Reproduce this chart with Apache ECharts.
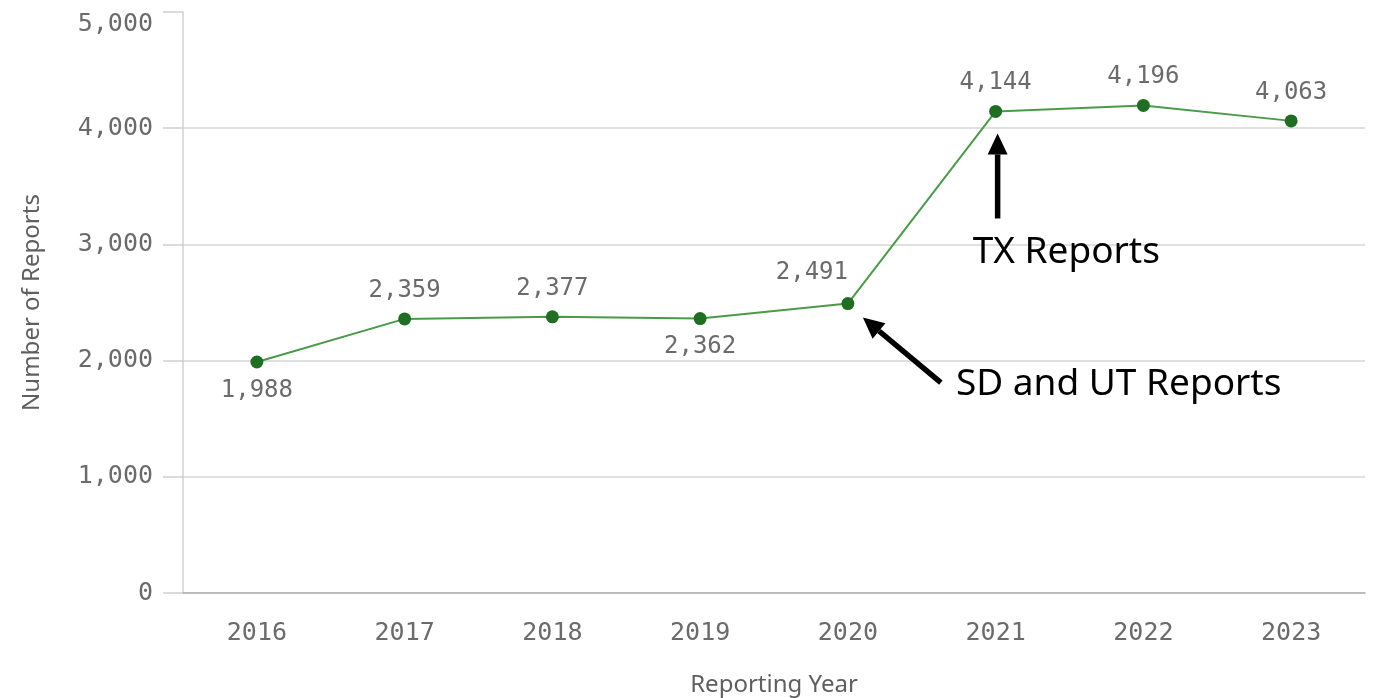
<!DOCTYPE html>
<html>
<head>
<meta charset="utf-8">
<script src="https://cdn.jsdelivr.net/npm/echarts@6/dist/echarts.min.js"></script>
<style>
html,body{margin:0;padding:0;background:#fff;}
#main{width:1375px;height:698px;}
</style>
</head>
<body>
<div id="main"></div>
<script>
const years = ['2016','2017','2018','2019','2020','2021','2022','2023'];
const reports = [1988, 2359, 2377, 2362, 2491, 4144, 4196, 4063];
const labelBelow = [true, false, false, true, false, false, false, false];
const yTicks = [0, 1000, 2000, 3000, 4000, 5000];

const monoFont = '"DejaVu Sans Mono", monospace';
const sansFont = '"Noto Sans", "Open Sans", sans-serif';

const chart = echarts.init(document.getElementById('main'));

const seriesData = reports.map((v, i) => {
  const d = { value: v };
  if (labelBelow[i]) d.label = { position: 'bottom' };
  if (years[i] === '2020') d.label = { position: 'top', offset: [-36, -2] };
  return d;
});

chart.setOption({
  animation: false,
  backgroundColor: '#ffffff',
  grid: { left: 183, right: 10, top: 12, bottom: 105, containLabel: false, outerBoundsMode: 'none' },
  xAxis: {
    type: 'category',
    data: years,
    boundaryGap: true,
    name: 'Reporting Year',
    nameLocation: 'middle',
    nameGap: 80,
    nameTextStyle: { fontFamily: sansFont, fontSize: 24, color: '#5f5f5f' },
    axisLine: { show: true, lineStyle: { color: '#a6a6a6', width: 1.5 } },
    axisTick: { show: false },
    axisLabel: { fontFamily: monoFont, fontSize: 25, color: '#6b6b6b', margin: 28 },
    splitLine: { show: false }
  },
  yAxis: {
    type: 'value',
    min: yTicks[0],
    max: yTicks[yTicks.length - 1],
    interval: 1000,
    name: 'Number of Reports',
    nameLocation: 'middle',
    nameGap: 139,
    nameTextStyle: { fontFamily: sansFont, fontSize: 24, color: '#5f5f5f' },
    axisLine: { show: true, lineStyle: { color: '#d0d0d0', width: 1.5 } },
    axisTick: { show: true, inside: false, length: 20, lineStyle: { color: '#d0d0d0', width: 1.5 } },
    axisLabel: {
      fontFamily: monoFont, fontSize: 25, color: '#6b6b6b', margin: 30,
      verticalAlignMaxLabel: 'top',
      formatter: v => v.toLocaleString('en-US')
    },
    splitLine: { show: true, showMaxLine: false, showMinLine: false, lineStyle: { color: '#d6d6d6', width: 1.5 } }
  },
  series: [{
    type: 'line',
    data: seriesData,
    symbol: 'circle',
    symbolSize: 13,
    lineStyle: { color: '#4a9a4a', width: 2 },
    itemStyle: { color: '#1f6e24' },
    label: {
      show: true,
      position: 'top',
      distance: 10,
      fontFamily: monoFont,
      fontSize: 24,
      color: '#6b6b6b',
      formatter: p => p.value.toLocaleString('en-US')
    },
    z: 5
  }]
});

function arrow(x1, y1, x2, y2) {
  const ang = Math.atan2(y2 - y1, x2 - x1);
  const headLen = 21, headW = 10;
  const bx = x2 - headLen * Math.cos(ang), by = y2 - headLen * Math.sin(ang);
  const px = -Math.sin(ang) * headW, py = Math.cos(ang) * headW;
  return [
    { type: 'line', shape: { x1: x1, y1: y1, x2: bx, y2: by }, style: { stroke: '#000', lineWidth: 5.5 }, z: 10 },
    { type: 'polygon', shape: { points: [[x2, y2], [bx + px, by + py], [bx - px, by - py]] }, style: { fill: '#000' }, z: 10 }
  ];
}

const tx = chart.convertToPixel({ seriesIndex: 0 }, ['2021', reports[years.indexOf('2021')]]);
const sd = chart.convertToPixel({ seriesIndex: 0 }, ['2020', reports[years.indexOf('2020')]]);

const graphics = []
  .concat(arrow(tx[0] + 2, tx[1] + 107, tx[0] + 2, tx[1] + 22))
  .concat(arrow(sd[0] + 93, sd[1] + 79, sd[0] + 15, sd[1] + 14))
  .concat([
    { type: 'text', x: tx[0] - 23, y: tx[1] + 141, style: { text: 'TX Reports', font: '37px ' + sansFont, fill: '#000', textVerticalAlign: 'middle' }, z: 10 },
    { type: 'text', x: sd[0] + 108, y: sd[1] + 81, style: { text: 'SD and UT Reports', font: '37px ' + sansFont, fill: '#000', textVerticalAlign: 'middle' }, z: 10 }
  ]);

chart.setOption({ graphic: graphics });
</script>
</body>
</html>
